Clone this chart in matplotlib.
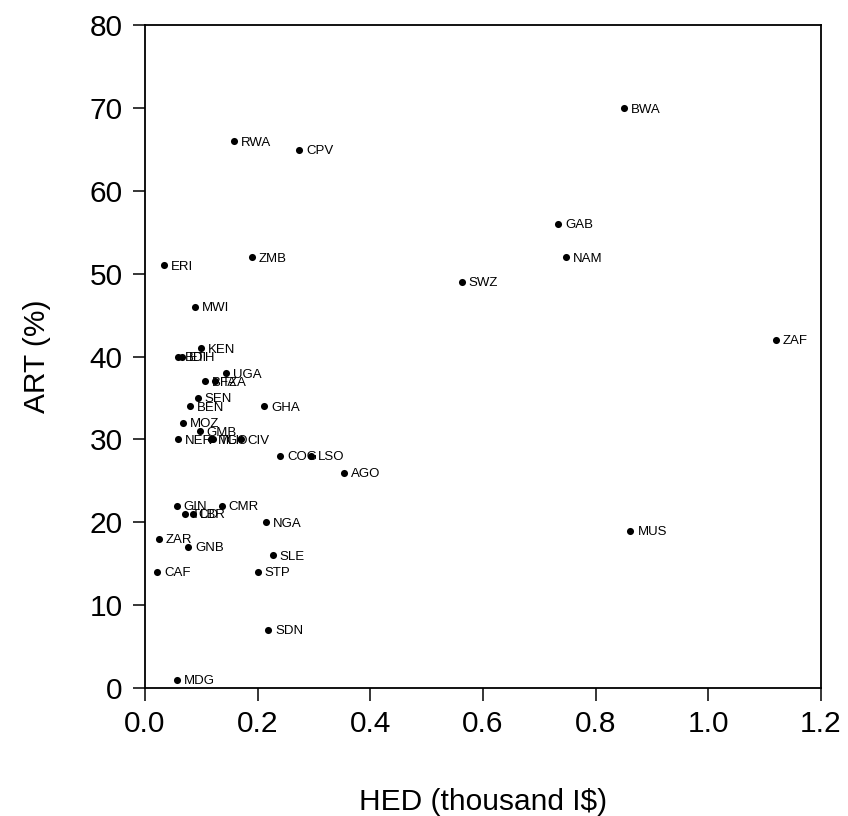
import matplotlib
matplotlib.use("Agg")
import matplotlib.pyplot as plt

plt.rcParams["font.family"] = ["Liberation Sans", "DejaVu Sans"]

# country codes, health expenditure (thousand I$) and ART coverage (%)
CODES = ["BWA", "RWA", "CPV", "GAB", "NAM", "SWZ", "ZMB", "ERI", "MWI", "ZAF",
         "KEN", "BDI", "ETH", "UGA", "BFA", "TZA", "SEN", "BEN", "GHA", "MOZ",
         "GMB", "NER", "MLI", "TGO", "CIV", "COG", "LSO", "AGO", "GIN", "CMR",
         "TCD", "LBR", "NGA", "MUS", "ZAR", "GNB", "SLE", "CAF", "STP", "SDN",
         "MDG"]
HED = [0.850, 0.158, 0.274, 0.734, 0.748, 0.562, 0.190, 0.034, 0.089, 1.120,
       0.099, 0.058, 0.065, 0.144, 0.107, 0.124, 0.094, 0.080, 0.212, 0.068,
       0.097, 0.058, 0.117, 0.121, 0.170, 0.240, 0.294, 0.354, 0.056, 0.136,
       0.071, 0.085, 0.215, 0.862, 0.024, 0.077, 0.227, 0.022, 0.200, 0.219,
       0.056]
ART = [70, 66, 65, 56, 52, 49, 52, 51, 46, 42,
       41, 40, 40, 38, 37, 37, 35, 34, 34, 32,
       31, 30, 30, 30, 30, 28, 28, 26, 22, 22,
       21, 21, 20, 19, 18, 17, 16, 14, 14, 7,
       1]

fig = plt.figure(figsize=(8.48, 8.16), dpi=100)
ax = fig.add_axes([0.171, 0.157, 0.797, 0.812])

ax.scatter(HED, ART, s=26, color="black", zorder=3, linewidths=0)
for code, x, y in zip(CODES, HED, ART):
    ax.annotate(code, (x, y), xytext=(5, -1), textcoords="offset points",
                ha="left", va="center", fontsize=9.5)

ax.set_xlim(0, 1.2)
ax.set_ylim(0, 80)
ax.set_xticks([0.0, 0.2, 0.4, 0.6, 0.8, 1.0, 1.2],
              ["0.0", "0.2", "0.4", "0.6", "0.8", "1.0", "1.2"])
ax.set_yticks(range(0, 81, 10))
ax.tick_params(direction="out", length=9, width=1.1, labelsize=21.5, pad=7)
for sp in ax.spines.values():
    sp.set_linewidth(1.3)

ax.set_xlabel("HED (thousand I$)", fontsize=21.5, labelpad=36)
ax.set_ylabel("ART (%)", fontsize=21.5, labelpad=28)

fig.savefig("out.png", dpi=100)
